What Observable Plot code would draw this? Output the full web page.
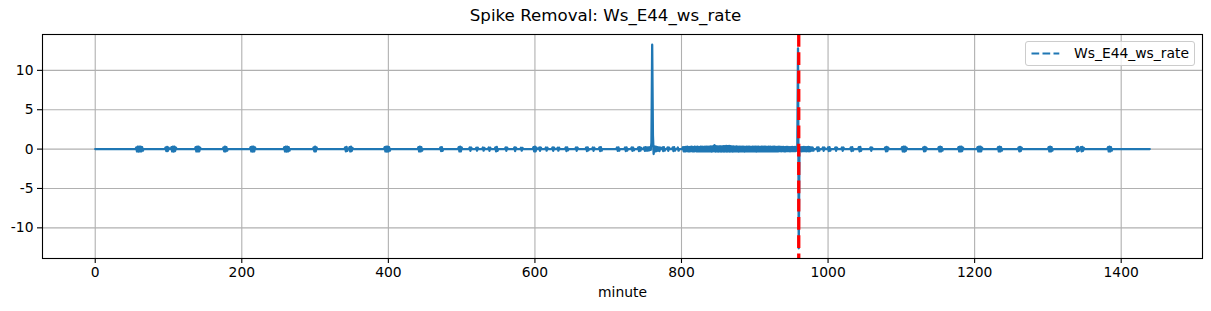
<!DOCTYPE html>
<html>
<head>
<meta charset="utf-8">
<script src="https://cdn.jsdelivr.net/npm/d3@7"></script>
<script src="https://cdn.jsdelivr.net/npm/@observablehq/plot@0.6"></script>
<style>
  html, body { margin: 0; padding: 0; background: white; }
  #wrap { position: relative; width: 1211px; height: 311px; font-family: "DejaVu Sans", sans-serif; color: #000; }
  #title { position: absolute; left: 0; top: 6px; width: 1211px; text-align: center; font-size: 16.67px; line-height: 20px; }
  #legend { position: absolute; left: 1025px; top: 41px; width: 170px; height: 25px; box-sizing: border-box;
            border: 1px solid #cccccc; border-radius: 3px; background: rgba(255,255,255,0.8); }
  #legend svg { position: absolute; left: 5px; top: 0; }
  #legend span { position: absolute; left: 48px; top: 3px; font-size: 13.89px; line-height: 17px; }
</style>
</head>
<body>
<div id="wrap">
  <div id="chart"></div>
  <div id="title">Spike Removal: Ws_E44_ws_rate</div>
  <div id="legend">
    <svg width="32" height="23"><line x1="0.5" y1="11.5" x2="28.3" y2="11.5" stroke="#1f77b4" stroke-width="2.08" stroke-dasharray="7.7,3.3"/></svg>
    <span>Ws_E44_ws_rate</span>
  </div>
</div>
<script>
// ---- data (minute, value) vertices of the Ws_E44_ws_rate series ----
const seriesName = "Ws_E44_ws_rate";
const wsRatePoints = [
  [0,0],
  [55,0],[56,0.2],[57,-0.3],[58,0.3],[59,-0.32],[60,0.32],[61,-0.3],[62,0.3],[63,-0.28],[64,0.25],[65,-0.2],[66,0],
  [95,0],[96,0.2],[97,-0.25],[98,0.28],[99,-0.25],[100,0.2],[101,0],
  [103,0],[104,0.25],[105,-0.3],[106,0.3],[107,-0.32],[108,0.3],[109,-0.25],[110,0.2],[111,0],
  [136,0],[137,0.25],[138,-0.3],[139,0.32],[140,-0.3],[141,0.3],[142,-0.28],[143,0.2],[144,0],
  [174,0],[175,0.22],[176,-0.28],[177,0.3],[178,-0.28],[179,0.25],[180,-0.2],[181,0],
  [211,0],[212,0.25],[213,-0.3],[214,0.32],[215,-0.32],[216,0.3],[217,-0.28],[218,0.22],[219,0],
  [257,0],[258,0.25],[259,-0.3],[260,0.32],[261,-0.32],[262,0.3],[263,-0.3],[264,0.25],[265,-0.2],[266,0],
  [297,0],[298,0.22],[299,-0.28],[300,0.3],[301,-0.28],[302,0.22],[303,0],
  [340,0],[341,0.22],[342,-0.28],[343,0.28],[344,-0.22],[345,0],[346,0],[347,0.25],[348,-0.3],[349,0.3],[350,-0.25],[351,0.15],[352,0],
  [394,0],[395,0.25],[396,-0.3],[397,0.32],[398,-0.32],[399,0.32],[400,-0.3],[401,0.25],[402,-0.2],[403,0],
  [440,0],[441,0.25],[442,-0.3],[443,0.3],[444,-0.3],[445,0.25],[446,-0.2],[447,0],
  [470,0],[471,0.22],[472,-0.25],[473,0.25],[474,-0.22],[475,0],
  [495,0],[496,0.25],[497,-0.3],[498,0.3],[499,-0.28],[500,0.22],[501,0],
  [510,0],[511,0.2],[512,-0.22],[513,0.2],[514,0],
  [519,0],[520,0.18],[521,-0.2],[522,0.18],[523,0],
  [528,0],[529,0.2],[530,-0.2],[531,0.15],[532,0],
  [536,0],[537,0.2],[538,-0.22],[539,0.18],[540,0],
  [545,0],[546,0.22],[547,-0.28],[548,0.28],[549,-0.22],[550,0],
  [559,0],[560,0.2],[561,-0.22],[562,0.2],[563,0],
  [571,0],[572,0.22],[573,-0.25],[574,0.2],[575,0],
  [580,0],[581,0.18],[582,-0.2],[583,0.15],[584,0],
  [597,0],[598,0.25],[599,-0.28],[600,0.3],[601,-0.28],[602,0.2],[603,0],
  [605,0],[606,0.2],[607,-0.22],[608,0.2],[609,0],
  [614,0],[615,0.2],[616,-0.2],[617,0.18],[618,0],
  [623,0],[624,0.2],[625,-0.22],[626,0.2],[627,0],
  [630,0],[631,0.18],[632,-0.2],[633,0.18],[634,0],
  [641,0],[642,0.22],[643,-0.25],[644,0.22],[645,-0.15],[646,0],
  [655,0],[656,0.2],[657,-0.22],[658,0.2],[659,0],
  [669,0],[670,0.2],[671,-0.25],[672,0.22],[673,-0.15],[674,0],
  [678,0],[679,0.2],[680,-0.22],[681,0.18],[682,0],
  [687,0],[688,0.22],[689,-0.25],[690,0.25],[691,-0.2],[692,0],
  [711,0],[712,0.2],[713,-0.22],[714,0.22],[715,-0.2],[716,0],
  [722,0],[723,0.2],[724,-0.25],[725,0.22],[726,-0.18],[727,0],
  [731,0],[732,0.2],[733,-0.22],[734,0.2],[735,-0.15],[736,0],
  [740,0],[741,0.22],[742,-0.25],[743,0.25],[744,-0.2],[745,0.15],[746,0],
  [748,0],[749,0.2],[750,-0.22],[751,0.25],[752,-0.2],[753,0.22],[754,-0.2],[755,0.22],[756,-0.15],[757,0.25],[758,-0.1],[759,0.8],
  [760,13.26],[761,1.8],[762,-0.62],[763,0.35],[764,-0.3],[765,0.3],[766,-0.25],[767,0.25],[768,-0.2],[769,0.22],[770,-0.25],[771,0.2],[772,0],
  [773,0],[774,0.22],[775,-0.25],[776,0.25],[777,-0.2],[778,0],
  [780,0],[781,0.2],[782,-0.22],[783,0.2],[784,0],
  [787,0],[788,0.22],[789,-0.25],[790,0.25],[791,-0.2],[792,0],
  [794,0],[795,0.2],[796,-0.2],[797,0],
  [801,0],[802,0.25],[803,-0.28],[804,0.25],[805,-0.3],[806,0.28],[807,-0.25],[808,0.3],[809,-0.28],[810,0.25],
  [811,-0.3],[812,0.28],[813,-0.25],[814,0.3],[815,-0.28],[816,0.25],[817,-0.3],[818,0.3],[819,-0.25],[820,0.28],
  [821,-0.3],[822,0.3],[823,-0.28],[824,0.25],[825,-0.3],[826,0.3],[827,-0.28],[828,0.3],[829,-0.3],[830,0.28],
  [831,-0.28],[832,0.3],[833,-0.3],[834,0.32],[835,-0.28],[836,0.3],[837,-0.3],[838,0.32],[839,-0.3],[840,0.35],
  [841,-0.32],[842,0.35],[843,-0.3],[844,0.38],[845,0.5],[846,-0.32],[847,0.38],[848,-0.3],[849,0.35],[850,-0.32],
  [851,0.35],[852,-0.3],[853,0.36],[854,-0.32],[855,0.35],[856,-0.3],[857,0.38],[858,-0.32],[859,0.36],[860,-0.3],
  [861,0.4],[862,-0.32],[863,0.38],[864,-0.3],[865,0.42],[866,-0.32],[867,0.36],[868,-0.3],[869,0.35],[870,-0.32],
  [871,0.33],[872,-0.3],[873,0.32],[874,-0.3],[875,0.33],[876,-0.3],[877,0.3],[878,-0.32],[879,0.3],[880,-0.3],
  [881,0.32],[882,-0.28],[883,0.3],[884,-0.3],[885,0.3],[886,-0.32],[887,0.28],[888,-0.3],[889,0.3],[890,-0.28],
  [891,0.32],[892,-0.3],[893,0.3],[894,-0.3],[895,0.28],[896,-0.3],[897,0.3],[898,-0.28],[899,0.3],[900,-0.3],
  [901,0.3],[902,-0.32],[903,0.3],[904,-0.28],[905,0.3],[906,-0.3],[907,0.28],[908,-0.3],[909,0.3],[910,-0.28],
  [911,0.3],[912,-0.3],[913,0.32],[914,-0.28],[915,0.3],[916,-0.3],[917,0.28],[918,-0.3],[919,0.3],[920,-0.28],
  [921,0.3],[922,-0.28],[923,0.28],[924,-0.3],[925,0.3],[926,-0.28],[927,0.3],[928,-0.3],[929,0.28],[930,-0.28],
  [931,0.28],[932,-0.28],[933,0.3],[934,-0.26],[935,0.28],[936,-0.28],[937,0.28],[938,-0.26],[939,0.28],[940,-0.28],
  [941,0.26],[942,-0.28],[943,0.28],[944,-0.26],[945,0.28],[946,-0.26],[947,0.26],[948,-0.28],[949,0.26],[950,-0.26],
  [951,0.28],[952,-0.26],[953,0.26],[954,-0.26],[955,0.28],[956,-0.25],[957,0.26],[958,-0.2],
  [959,12.8],[960,-12.6],[961,0.25],
  [962,-0.25],[963,0.25],[964,-0.28],[965,0.25],[966,-0.25],[967,0.28],[968,-0.25],[969,0.25],[970,-0.28],[971,0.25],
  [972,-0.25],[973,0.28],[974,-0.28],[975,0.25],[976,-0.25],[977,0.22],[978,-0.2],[979,0.2],[980,-0.2],[981,0],
  [984,0],[985,0.22],[986,-0.25],[987,0.22],[988,-0.2],[989,0],
  [992,0],[993,0.2],[994,-0.22],[995,0.2],[996,0],
  [999,0],[1000,0.22],[1001,-0.25],[1002,0.25],[1003,-0.2],[1004,0],
  [1009,0],[1010,0.2],[1011,-0.22],[1012,0.2],[1013,0],
  [1018,0],[1019,0.2],[1020,-0.22],[1021,0.2],[1022,0],
  [1030,0],[1031,0.22],[1032,-0.25],[1033,0.25],[1034,-0.2],[1035,0],
  [1041,0],[1042,0.25],[1043,-0.28],[1044,0.28],[1045,-0.22],[1046,0],
  [1057,0],[1058,0.2],[1059,-0.22],[1060,0.2],[1061,0],
  [1077,0],[1078,0.22],[1079,-0.28],[1080,0.28],[1081,-0.25],[1082,0.2],[1083,0],
  [1100,0],[1101,0.25],[1102,-0.3],[1103,0.3],[1104,-0.32],[1105,0.3],[1106,-0.25],[1107,0.2],[1108,0],
  [1129,0],[1130,0.22],[1131,-0.28],[1132,0.28],[1133,-0.25],[1134,0.2],[1135,0],
  [1150,0],[1151,0.25],[1152,-0.3],[1153,0.3],[1154,-0.3],[1155,0.25],[1156,-0.2],[1157,0],
  [1177,0],[1178,0.25],[1179,-0.3],[1180,0.32],[1181,-0.3],[1182,0.3],[1183,-0.25],[1184,0.2],[1185,0],
  [1203,0],[1204,0.25],[1205,-0.3],[1206,0.32],[1207,-0.3],[1208,0.3],[1209,-0.28],[1210,0.2],[1211,0],
  [1231,0],[1232,0.25],[1233,-0.3],[1234,0.3],[1235,-0.3],[1236,0.25],[1237,-0.2],[1238,0],
  [1259,0],[1260,0.22],[1261,-0.28],[1262,0.28],[1263,-0.25],[1264,0.2],[1265,0],
  [1300,0],[1301,0.25],[1302,-0.3],[1303,0.3],[1304,-0.3],[1305,0.25],[1306,-0.2],[1307,0],
  [1338,0],[1339,0.22],[1340,-0.28],[1341,0.28],[1342,-0.22],[1343,0],[1344,0],[1345,0.25],[1346,-0.28],[1347,0.28],[1348,-0.22],[1349,0.15],[1350,0],
  [1381,0],[1382,0.25],[1383,-0.3],[1384,0.3],[1385,-0.3],[1386,0.25],[1387,-0.2],[1388,0],
  [1439,0]
];
const eventMinutes = [960];
const xTicks = [0, 200, 400, 600, 800, 1000, 1200, 1400];
const yTicks = [-10, -5, 0, 5, 10];
const xLabel = "minute";

// ---- scales with matplotlib-style 5% margins ----
const xs = wsRatePoints.map(d => d[0]);
const ys = wsRatePoints.map(d => d[1]);
const xMin = d3.min(xs), xMax = d3.max(xs);
const yMin = d3.min(ys), yMax = d3.max(ys);
const xPad = 0.05 * (xMax - xMin), yPad = 0.05 * (yMax - yMin);

const gridColor = "#b0b0b0";
const fmt = d => String(d);

const chart = Plot.plot({
  width: 1211,
  height: 311,
  marginTop: 34,
  marginBottom: 53,
  marginLeft: 42,
  marginRight: 9,
  style: { fontFamily: "DejaVu Sans, sans-serif", fontSize: "13.89px", color: "#000", background: "white" },
  x: { domain: [xMin - xPad, xMax + xPad], label: null },
  y: { domain: [yMin - yPad, yMax + yPad], label: null },
  marks: [
    Plot.ruleX(xTicks, { stroke: gridColor, strokeWidth: 1.1 }),
    Plot.ruleY(yTicks, { stroke: gridColor, strokeWidth: 1.1 }),
    Plot.line(wsRatePoints, { x: d => d[0], y: d => d[1], stroke: "#1f77b4", strokeWidth: 2.3, strokeLinejoin: "round" }),
    Plot.ruleX(eventMinutes, { stroke: "red", strokeWidth: 3.3, strokeDasharray: "12.8,5.5" }),
    Plot.frame({ stroke: "black", strokeWidth: 1.1 }),
    Plot.axisX(xTicks, { anchor: "bottom", tickSize: 5, tickPadding: 4, tickFormat: fmt, label: null, fontSize: 13.89, strokeWidth: 1.1 }),
    Plot.axisY(yTicks, { anchor: "left", tickSize: 5, tickPadding: 4, tickFormat: fmt, label: null, fontSize: 13.89, strokeWidth: 1.1 }),
    Plot.text([xLabel], { text: d => d, frameAnchor: "bottom", dy: 29, lineAnchor: "top", fontSize: 13.89 })
  ]
});
document.getElementById("chart").appendChild(chart);
document.querySelector("#legend span").textContent = seriesName;
</script>
</body>
</html>
